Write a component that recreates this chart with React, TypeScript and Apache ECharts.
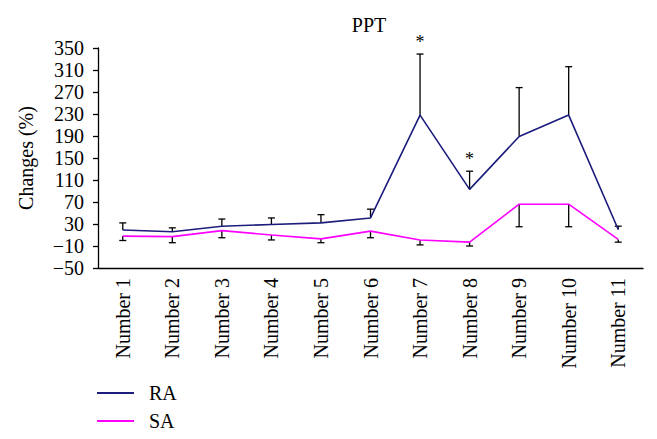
import React, { useEffect, useRef } from "react";
import * as echarts from "echarts";

const categories = [
  "Number 1", "Number 2", "Number 3", "Number 4", "Number 5", "Number 6",
  "Number 7", "Number 8", "Number 9", "Number 10", "Number 11",
];
const raValues = [19, 16, 26, 29, 32, 41, 228, 93, 189, 228, 20];
const raErrUp = [13, 7, 13, 12, 15, 16, 111, 33, 89, 88, 6];
const saValues = [8, 7, 18, 10, 3, 17, 1, -3, 66, 66, 2];
const saErrDown = [8, 11, 13, 9, 7, 12, 9, 7, 41, 41, 5];
const starred = [false, false, false, false, false, false, true, true, false, false, false];
const yTicks = { min: -50, max: 350, interval: 40 };

const FONT = '"Liberation Serif", "Times New Roman", serif';
const RA_COLOR = "#1c1c7c";
const SA_COLOR = "#ff00ff";

export default function App() {
  const ref = useRef<HTMLDivElement>(null);
  useEffect(() => {
    if (!ref.current) return;
    const chart = echarts.init(ref.current, null, { renderer: "svg" });

    const errorData = categories.map((_, i) => [i, raValues[i], raValues[i] + raErrUp[i], saValues[i], saValues[i] - saErrDown[i], starred[i] ? 1 : 0]);

    const renderErr = (params: any, api: any) => {
      const i = api.value(0);
      const raP = api.coord([i, api.value(1)]);
      const raT = api.coord([i, api.value(2)]);
      const saP = api.coord([i, api.value(3)]);
      const saB = api.coord([i, api.value(4)]);
      const cap = 3.5;
      const st = { stroke: "#000", lineWidth: 1.3 };
      const children: any[] = [
        { type: "line", shape: { x1: raP[0], y1: raP[1], x2: raT[0], y2: raT[1] }, style: st },
        { type: "line", shape: { x1: raT[0] - cap, y1: raT[1], x2: raT[0] + cap, y2: raT[1] }, style: st },
        { type: "line", shape: { x1: saP[0], y1: saP[1], x2: saB[0], y2: saB[1] }, style: st },
        { type: "line", shape: { x1: saB[0] - cap, y1: saB[1], x2: saB[0] + cap, y2: saB[1] }, style: st },
      ];
      if (api.value(5)) {
        children.push({
          type: "text",
          x: raT[0],
          y: raT[1] - 3,
          style: { text: "*", fontSize: 18, fontFamily: FONT, fill: "#000", align: "center", verticalAlign: "bottom" },
        });
      }
      return { type: "group", children };
    };

    chart.setOption({
      animation: false,
      backgroundColor: "#fff",
      title: {
        text: "PPT",
        left: 364,
        top: 10,
        textAlign: "center",
        textStyle: { fontFamily: FONT, fontSize: 20, fontWeight: "normal", color: "#000" },
      },
      legend: {
        orient: "vertical",
        left: 97,
        top: 383,
        padding: 0,
        itemWidth: 37,
        itemHeight: 2,
        itemGap: 8,
        icon: "rect",
        textStyle: { fontFamily: FONT, fontSize: 20, color: "#000", padding: [0, 0, 0, 10] },
        data: [
          { name: "RA", itemStyle: { color: RA_COLOR } },
          { name: "SA", itemStyle: { color: SA_COLOR } },
        ],
      },
      grid: { left: 98, right: 14, top: 48, bottom: 171, containLabel: false },
      xAxis: {
        type: "category",
        data: categories,
        boundaryGap: true,
        axisLine: { onZero: false, lineStyle: { color: "#000", width: 1.3 } },
        axisTick: { inside: true, length: 5, lineStyle: { color: "#000", width: 1.3 } },
        axisLabel: { rotate: 90, margin: 10, fontFamily: FONT, fontSize: 20, color: "#000", interval: 0 },
      },
      yAxis: {
        type: "value",
        min: yTicks.min,
        max: yTicks.max,
        interval: yTicks.interval,
        name: "Changes (%)",
        nameLocation: "middle",
        nameGap: 62,
        nameTextStyle: { fontFamily: FONT, fontSize: 20, color: "#000" },
        splitLine: { show: false },
        axisLine: { show: true, lineStyle: { color: "#000", width: 1.3 } },
        axisTick: { show: true, length: 5, lineStyle: { color: "#000", width: 1.3 } },
        axisLabel: {
          margin: 14,
          fontFamily: FONT,
          fontSize: 20,
          color: "#000",
          formatter: (v: number) => (v < 0 ? "\u2212" + Math.abs(v) : String(v)),
        },
      },
      series: [
        {
          name: "RA",
          type: "line",
          data: raValues,
          symbol: "none",
          lineStyle: { color: RA_COLOR, width: 1.6 },
          itemStyle: { color: RA_COLOR },
          z: 3,
        },
        {
          name: "SA",
          type: "line",
          data: saValues,
          symbol: "none",
          lineStyle: { color: SA_COLOR, width: 1.6 },
          itemStyle: { color: SA_COLOR },
          z: 3,
        },
        {
          name: "err",
          type: "custom",
          renderItem: renderErr,
          data: errorData,
          encode: { x: 0, y: [1, 2, 3, 4] },
          z: 2,
          silent: true,
        },
      ],
    });
    return () => chart.dispose();
  }, []);
  return <div ref={ref} style={{ position: "absolute", left: 0, top: 0, width: 657, height: 439 }} />;
}
